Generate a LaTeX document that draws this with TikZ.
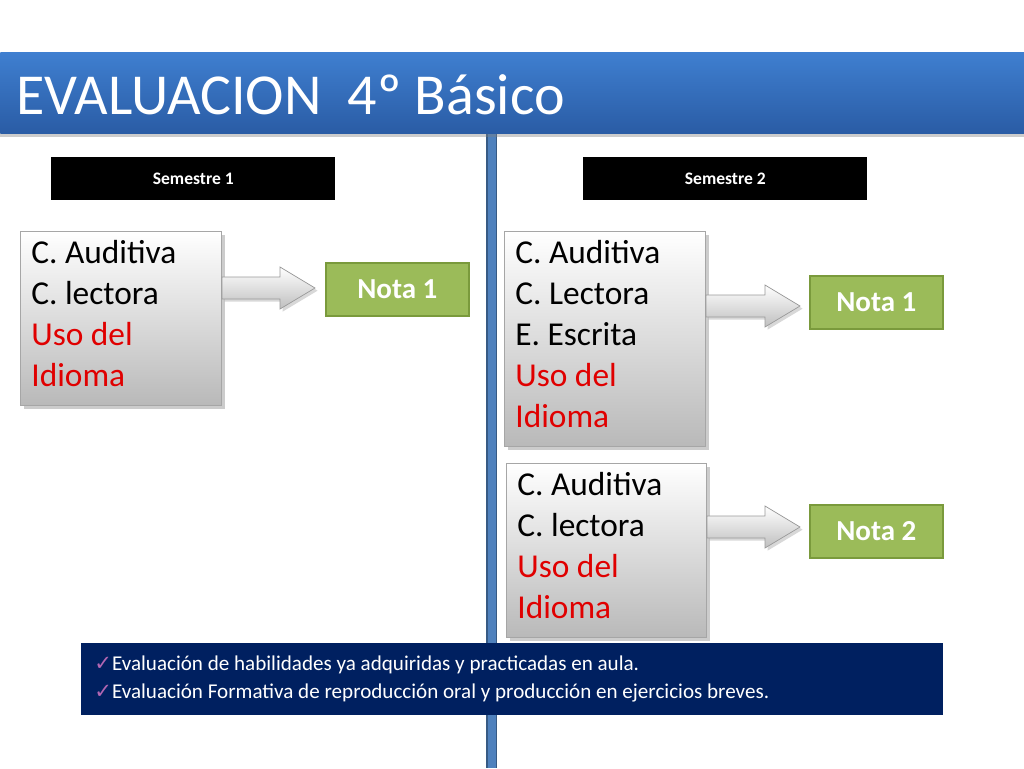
\documentclass[tikz,border=0pt]{standalone}
\usepackage{fontspec}
\setmainfont{Carlito}
\newfontfamily\djv{DejaVu Sans}
\usetikzlibrary{shadows,calc}
\definecolor{titA}{HTML}{3F7FD0}
\definecolor{titB}{HTML}{2A5CA5}
\definecolor{vline}{HTML}{4F81BD}
\definecolor{notag}{HTML}{9BBB59}
\definecolor{notab}{HTML}{7A9A3C}
\definecolor{navy}{HTML}{002060}
\definecolor{redt}{HTML}{E00000}
\tikzset{
 x=0.02cm,y=-0.02cm,
 graybox/.style={draw=gray!70,top color=white,bottom color=gray!55,drop shadow={opacity=0.4,shadow xshift=2pt,shadow yshift=-2pt},anchor=north west,inner sep=0pt},
 semebox/.style={fill=black,text=white,font=\fontsize{10}{12}\selectfont\bfseries,minimum width=5.68cm,minimum height=0.86cm,anchor=north west},
 notabox/.style={draw=notab,line width=1pt,fill=notag,text=white,font=\fontsize{16.5}{19}\selectfont\bfseries,anchor=north west,inner sep=0pt},
 fatarrow/.style={draw=gray!80,top color=white,bottom color=gray!50,drop shadow={opacity=0.3,shadow xshift=1.5pt,shadow yshift=-1.5pt}},
 boxtxt/.style={font=\fontsize{19}{23.3}\selectfont,align=left,anchor=north west,inner sep=0pt}
}
\newcommand\fatarr[3]{% x1 x2 ycenter
 \path[fatarrow] (#1,#3-11) -- (#2-35,#3-11) -- (#2-35,#3-21) -- (#2,#3) -- (#2-35,#3+21) -- (#2-35,#3+11) -- (#1,#3+11) -- cycle;}
\begin{document}
\begin{tikzpicture}
\useasboundingbox (0,0) rectangle (1024,768);
\fill[white] (0,0) rectangle (1024,768);
% vertical line
\fill[vline] (486,133) rectangle (497,768);
\fill[vline!70!black] (486,133) rectangle (487.5,768);
\fill[vline!70!black] (495.5,133) rectangle (497,768);
% title
\node[anchor=north west,minimum width=20.48cm,minimum height=1.62cm,top color=titA,bottom color=titB,inner sep=0pt,drop shadow={opacity=0.4,shadow yshift=-2pt,shadow xshift=0pt}] (title) at (0,52) {};
\node[anchor=west,text=white,font=\fontsize{33}{36}\selectfont] (titletxt) at (10,95) {EVALUACION\ \ 4º Básico};
% semesters
\node[semebox] (s1) at (51,157) {Semestre 1};
\node[semebox] (s2) at (583,157) {Semestre 2};
% boxes
\node[graybox,minimum width=4.02cm,minimum height=3.48cm] (b1) at (20,231) {};
\node[boxtxt] (b1t) at (31,240) {C. Auditiva\\C. lectora\\\textcolor{redt}{Uso del}\\\textcolor{redt}{Idioma}};
\node[graybox,minimum width=4.02cm,minimum height=4.3cm] (b2) at (504,231) {};
\node[boxtxt] (b2t) at (515,240) {C. Auditiva\\C. Lectora\\E. Escrita\\\textcolor{redt}{Uso del}\\\textcolor{redt}{Idioma}};
\node[graybox,minimum width=4.0cm,minimum height=3.48cm] (b3) at (506,463) {};
\node[boxtxt] (b3t) at (517,472) {C. Auditiva\\C. lectora\\\textcolor{redt}{Uso del}\\\textcolor{redt}{Idioma}};
% notas
\node[notabox,minimum width=2.86cm,minimum height=1.06cm] (n1) at (325,262) {Nota 1};
\node[notabox,minimum width=2.66cm,minimum height=1.06cm] (n2) at (809,275) {Nota 1};
\node[notabox,minimum width=2.66cm,minimum height=1.06cm] (n3) at (809,504) {Nota 2};
% arrows
\fatarr{222}{315}{288}
\fatarr{706}{800}{306}
\fatarr{707}{800}{527}
% bottom box
\node[anchor=north west,fill=navy,minimum width=17.24cm,minimum height=1.44cm] (bot) at (81,643) {};
\node[anchor=west,text=white,font=\fontsize{12}{16}\selectfont,align=left,inner sep=0pt] (bott) at (94,679) {{\djv\color{violet!60!white}✓}Evaluación de habilidades ya adquiridas y practicadas en aula.\\{\djv\color{violet!60!white}✓}Evaluación Formativa de reproducción oral y producción en ejercicios breves.};
\end{tikzpicture}
\end{document}
